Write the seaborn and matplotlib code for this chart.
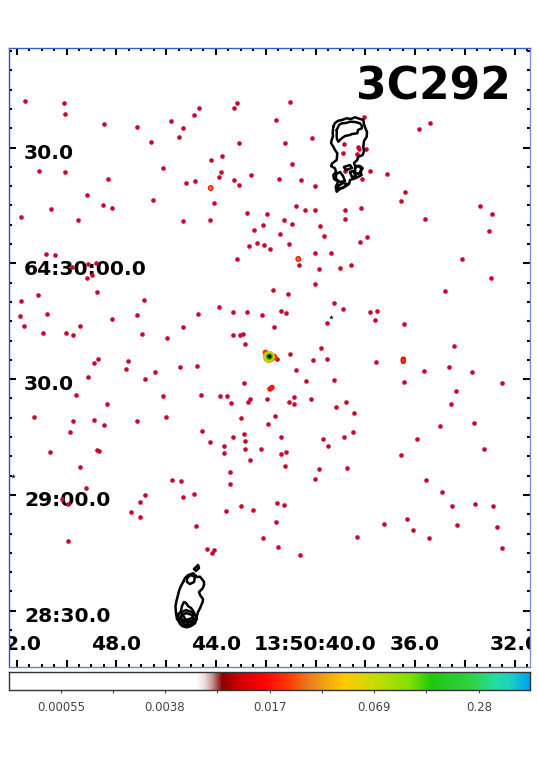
import numpy as np
import pandas as pd
import seaborn as sns
import matplotlib.pyplot as plt
from matplotlib.colors import LinearSegmentedColormap, LogNorm
from matplotlib.ticker import FixedLocator, FixedFormatter, NullFormatter
from matplotlib.transforms import ScaledTranslation

# faint sources, image pixel positions
src_x = [25, 64.3, 65, 104.3, 136.7, 171.3, 182.7, 194, 199.3, 234, 237.3, 150.7, 179.3, 238.7, 210.7, 221.7,
         163, 39, 65, 108.3, 221, 219, 186.3, 195, 234, 238.7, 250.7, 86.7, 153.3, 214, 103, 112, 51, 20.7,
         247.3, 266.7, 78, 183, 210.3, 263, 254.3, 249, 257.3, 264.3, 46, 55, 237.3, 270, 72.3, 88.3, 95.7,
         91.7, 87.3,
         290, 276, 364, 419.3, 430.3, 312, 285.3, 344, 357.7, 359.3, 365.7, 342.7, 356.7, 292.3, 370.3, 345.3,
         387.3, 279.3, 301, 362.3, 314.7, 405.3, 401.3, 296.3, 304.7, 315, 344.7, 361.3, 480, 492.3, 345, 425,
         284, 291.7, 319.7, 488.7, 280, 323.7, 367.3, 360.3, 288.7, 314.7, 331, 299, 318.7, 340.3, 351.3, 462,
         491,
         96.7, 38, 21, 143.7, 219.3, 233, 247.3, 261.7, 20, 46.7, 137, 198.3, 112, 24.3, 80.3, 183, 43, 66,
         73.3, 142, 167, 232.7, 240, 243.3, 245.3, 97.7, 93.7, 128, 126.3, 155, 180, 197, 88.3, 145.3, 243.7,
         76, 162.7, 201.3, 220.3, 227, 231, 248.3, 250, 267.3, 107.3, 34, 72.7, 94, 104.3, 137, 166, 240.7,
         268.3, 70.3, 201.7, 210.3, 233, 243.7, 245.3, 223.7, 245.3, 224, 261, 249.7, 49.7, 97, 99, 80, 230,
         171.7, 180.7, 229.7, 86.3, 194.3, 145, 182.7, 61.7, 68.3, 140, 131, 226, 241, 252.7, 140.3,
         315, 273.3, 287.7, 445.3, 333.7, 342.7, 281, 286.3, 370.3, 376.7, 374.7, 327, 404.3, 274, 454, 321,
         289.7, 277.3, 312.7, 327, 375.7, 296.3, 423.7, 449.3, 472.3, 306, 334.3, 404.3, 502, 456, 294.3,
         289.3, 293.7, 311, 335.7, 346.3, 451, 354, 275.3, 439.7, 474.3, 281, 323.3, 328, 344.3, 353.3, 417,
         484.3, 280.7, 285.7, 400.7, 284.7, 318.7, 347, 315.3, 426.3, 442, 276.7, 283.7, 452.3, 474.7, 492.7,
         406.7,
         196, 67.7, 263, 207.3, 212, 214, 275.7, 278.3, 299.7, 357, 384, 412.7, 428.7, 457.3, 497, 502.3]
src_y = [101, 102.7, 114.3, 124, 126.7, 121.3, 127.7, 114.7, 108, 107.7, 103.3, 142.3, 137.3, 143.3, 160, 155.7,
         168.3, 171, 172.3, 178.7, 172.3, 177, 182.7, 181, 180, 185, 174.7, 194.7, 200.3, 202.7, 205, 208.3,
         209.3, 217, 212.7, 214, 219.7, 220.7, 220.3, 225.3, 230.3, 246, 243.3, 245, 254, 255.3, 259, 249, 267,
         264.3, 263.3, 275, 278.3,
         102.3, 120, 117.3, 128.7, 123.3, 138.3, 143.3, 144.3, 147.3, 149.3, 149, 152.7, 154, 164.3, 171.3,
         171.3, 173.7, 179.3, 180, 179, 186, 192.3, 200.7, 206, 210, 210.3, 209.7, 208, 206.3, 213.7, 219.3,
         218.7, 220.3, 224, 226, 230.7, 234.3, 236.3, 236.7, 242, 244.3, 252.7, 252.7, 264.7, 269, 267.7,
         264.7, 259, 278,
         292, 294.7, 301, 299.7, 307.3, 312, 312.3, 315, 316, 314, 314.7, 314, 319, 325.7, 326, 326.7, 332.7,
         333, 335, 334, 338, 334.7, 335.3, 333.7, 343.7, 359, 362.7, 361, 368.7, 371.7, 367, 366, 377, 378.7,
         383.3, 394.7, 396.3, 395.3, 396.3, 396, 402.7, 402, 399, 399.3, 404.3, 416.7, 420.7, 419.7, 425.3,
         420.7, 417.3, 418, 424, 432, 431, 442, 436.7, 433.7, 441, 446, 448.7, 453.3, 449.3, 460.3, 452.3,
         449.7, 451.3, 466.7, 471.7, 480, 481, 484, 488, 494.3, 494.7, 497, 498.7, 504, 501.7, 511.7, 511,
         505.7, 509.7, 517,
         284.3, 290, 293.7, 291.3, 303, 309, 311.3, 312.7, 311.7, 311.3, 320, 322.7, 323.7, 326.7, 346.3, 348.3,
         354, 358.7, 360.3, 359.3, 362, 370, 370.7, 366.7, 372, 380.7, 379.7, 381.7, 382.7, 390.7, 397.3, 402,
         404.3, 399, 406.7, 402, 404.3, 413.3, 415.7, 425.7, 423, 436.7, 439, 445.7, 437, 432, 438.7, 449, 454,
         452.3, 454.7, 465.7, 469, 468.3, 479.3, 480, 492, 502.7, 504.7, 506, 503.7, 506, 519,
         526.3, 540.7, 538.3, 549, 553, 550.3, 522, 546.7, 555.3, 537.3, 524, 530.3, 538.3, 524.7, 526.7, 548.3]

# brighter sources, outer layers first
bright_x = [210.7, 210.7, 298.3, 298.3, 403.3, 403.3, 403.3, 270, 272,
            265.5, 274, 271, 269, 269, 269.3]
bright_y = [188, 188, 259, 259, 359.3, 361.3, 360.3, 389, 387.5,
            352.5, 357, 358, 357, 356.5, 356.5]
bright_flux = [0.017, 0.032, 0.017, 0.03, 0.017, 0.017, 0.024, 0.02, 0.02,
               0.024, 0.024, 0.02, 0.042, 0.075, 0.22]
bright_area = [18, 8, 18, 8, 16, 16, 7, 16, 16,
               18, 24, 30, 75, 48, 28]

# radio lobe contours
north_outer_x = [333.3, 335, 338.3, 342, 346.7, 351, 355, 360, 363.3, 364, 365, 367, 366.7, 364, 363.3, 364, 362.7,
                 358, 357.3, 354, 355, 360, 362.7, 360, 361.7, 356, 350, 349, 345, 341, 336.7, 335.7, 338.3,
                 334, 333.3, 336, 335, 331, 332.3, 336.7, 337.3, 335, 333.3, 331, 331.7, 333, 332.7, 333.3]
north_outer_y = [126.7, 123, 120.7, 120, 118.3, 119, 117.3, 119, 120, 124, 127.3, 132, 136.7, 141, 146.7, 151, 155,
                 157, 160, 163, 166, 166, 168.3, 172, 175, 178, 180, 184, 186.7, 188, 191.7, 186.7, 181.7,
                 179, 175, 172, 168.3, 166, 163.3, 160, 153.3, 150, 146.7, 143, 140, 136, 133.3, 126.7]
north_inner_x = [336.7, 339, 341.7, 346, 350, 355, 360, 362, 361.7, 358, 357.3, 352, 350, 345, 341.7, 338.3, 337,
                 336.7, 336.7]
north_inner_y = [130, 125, 123.3, 123, 121.7, 122, 123.3, 126, 128.3, 130, 133.3, 134, 135, 136, 138.3, 141.7, 139,
                 136.7, 130]
north_knot_a_x = [355, 358, 361, 361, 358, 355, 355]
north_knot_a_y = [168, 166, 168, 172, 174, 172, 168]
north_knot_b_x = [344, 350, 352, 346, 344]
north_knot_b_y = [167, 165, 168, 170, 167]
north_knot_c_x = [336, 340, 343, 345, 340, 336, 336]
north_knot_c_y = [174, 172, 176, 181, 182, 179, 174]
north_knot_d_x = [338, 343, 347, 343, 338, 338]
north_knot_d_y = [186, 183, 184, 188, 189, 186]
north_knot_e_x = [350, 353, 356, 352, 350]
north_knot_e_y = [172, 171, 176, 177, 172]
south_outer_x = [183.3, 185, 188.3, 193.3, 197, 200, 204, 204, 202.7, 199, 200, 203, 202.7, 200, 198, 196.7, 195,
                 191, 186.7, 182, 180, 177, 176, 175.5, 176.7, 178, 179.3, 181, 183.3]
south_outer_y = [581.7, 578, 575, 573.3, 577, 576.7, 581.7, 585, 588.3, 592, 595, 599, 601.7, 608.3, 612, 616.7,
                 623.3, 626, 627.3, 626, 623.3, 619, 613.3, 606, 600, 595, 590, 586, 581.7]
south_mid_x = [180.7, 182, 184, 186, 188, 191, 194, 192, 186, 180.7]
south_mid_y = [612, 606, 602, 603, 606, 608, 612, 618, 620, 612]
south_core_x = [181, 186, 192, 194, 188, 182, 181]
south_core_y = [616, 613, 615, 619, 623, 621, 616]
south_ring_x = [178, 186, 194, 197, 192, 186, 180, 178]
south_ring_y = [614, 610, 613, 619, 625, 627, 624, 614]
south_slot_x = [180, 186, 193, 190, 185, 180]
south_slot_y = [619, 621, 621, 625, 625, 619]
south_top_x = [187, 191, 195, 194, 190, 187, 187]
south_top_y = [578, 575, 577, 582, 584, 582, 578]
south_spot_x = [194, 198, 199, 196, 194]
south_spot_y = [569, 565, 568, 571, 569]

speck_x = [331, 13]
speck_y = [317, 475.7]
core_x = [269.3]
core_y = [356]

# tick labels
ra_major = [52, 50, 48, 46, 44, 42, 40, 38, 36, 34, 32]
ra_labels = ["52.0", "", "48.0", "", "44.0", "", "13:50:40.0", "", "36.0", "", "32.0"]
dec_major = [30, 0, -30, -60, -90]
dec_labels = ["30.0", "64:30:00.0", "30.0", "29:00.0", "28:30.0"]

cbar_ticks = [52, 104, 156, 208, 261, 313, 365, 417, 470]
cbar_labels = ["0.00055", "", "0.0038", "", "0.017", "", "0.069", "", "0.28"]

cmap_stops = [0.0, 0.359, 0.376, 0.39, 0.409, 0.445, 0.486, 0.53, 0.578, 0.645, 0.702, 0.77, 0.812, 0.885,
              0.933, 0.962, 1.0]
cmap_colors = ["#ffffff", "#ffffff", "#ecd8d8", "#c49494", "#8f0000", "#d00000", "#ff0000", "#ff3000", "#e88020",
               "#ffcc00", "#c8dc00", "#80e000", "#20c810", "#30d040", "#22e0a0", "#20d0c0", "#00a0f0"]


def ra_to_x(ra):
    return 315.5 + (40 - np.asarray(ra, dtype=float)) * 24.9


def dec_to_y(dec):
    return 263.3 - np.asarray(dec, dtype=float) * 3.86


sns.set_theme(style="white")
cmap = LinearSegmentedColormap.from_list("ds9", list(zip(cmap_stops, cmap_colors)), N=521)

fig = plt.figure(figsize=(5.38, 7.6), dpi=100)
ax = fig.add_axes([9 / 538, 1 - 667 / 760, 521 / 538, 619 / 760])

sns.scatterplot(x=src_x, y=src_y, color="#c9082d", s=11, linewidth=0, ax=ax, legend=False)

bright = pd.DataFrame({"x": bright_x, "y": bright_y, "flux": bright_flux, "area": bright_area})
sns.scatterplot(data=bright, x="x", y="y", hue="flux", palette=cmap, hue_norm=LogNorm(5.9e-4, 0.63),
                size="area", sizes=(7, 75), size_norm=(7, 75), linewidth=0, ax=ax, legend=False)
sns.scatterplot(x=core_x, y=core_y, color="black", s=9, linewidth=0, ax=ax, legend=False)
sns.scatterplot(x=speck_x, y=speck_y, color="black", s=12, marker="*", linewidth=0, ax=ax, legend=False)

contours = [(north_outer_x, north_outer_y), (north_inner_x, north_inner_y), (north_knot_a_x, north_knot_a_y),
            (north_knot_b_x, north_knot_b_y), (north_knot_c_x, north_knot_c_y), (north_knot_d_x, north_knot_d_y),
            (north_knot_e_x, north_knot_e_y), (south_outer_x, south_outer_y), (south_mid_x, south_mid_y),
            (south_core_x, south_core_y), (south_ring_x, south_ring_y), (south_slot_x, south_slot_y),
            (south_top_x, south_top_y), (south_spot_x, south_spot_y)]
for cx, cy in contours:
    sns.lineplot(x=cx, y=cy, sort=False, estimator=None, color="black", linewidth=1.8, ax=ax, legend=False)

ax.set_xlim(9, 530)
ax.set_ylim(667, 48)
ax.set_xlabel("")
ax.set_ylabel("")

ax.xaxis.set_major_locator(FixedLocator(ra_to_x(ra_major)))
ax.xaxis.set_major_formatter(FixedFormatter(ra_labels))
ax.xaxis.set_minor_locator(FixedLocator(ra_to_x(np.arange(31.5, 52.5, 0.5))))
ax.xaxis.set_minor_formatter(NullFormatter())
ax.yaxis.set_major_locator(FixedLocator(dec_to_y(dec_major)))
ax.yaxis.set_major_formatter(FixedFormatter(dec_labels))
ax.yaxis.set_minor_locator(FixedLocator(dec_to_y(np.arange(-95, 60, 5))))
ax.yaxis.set_minor_formatter(NullFormatter())

ax.tick_params(which="both", direction="in", top=True, right=True, bottom=True, left=True,
               color="black", width=1.5)
ax.tick_params(which="major", length=5.2)
ax.tick_params(which="minor", length=2.4)
ax.tick_params(axis="x", which="major", pad=-22.7, labelsize=14.6, labelcolor="black")
ax.tick_params(axis="y", which="major", pad=-10.8, labelsize=14.6, labelcolor="black")

for lab in ax.get_xticklabels():
    lab.set_fontweight("bold")
    lab.set_clip_on(True)
    lab.set_clip_box(ax.bbox)
shift = ScaledTranslation(0, -3.8 / 100, fig.dpi_scale_trans)
for lab in ax.get_yticklabels():
    lab.set_fontweight("bold")
    lab.set_horizontalalignment("left")
    lab.set_transform(lab.get_transform() + shift)

ax.text(511, 99, "3C292", ha="right", va="baseline", fontsize=31.7, fontweight="bold", color="black")

spine_colors = {"left": "#2b50d8", "top": "#3a5ad0", "right": "#7f90d0", "bottom": "#6a80d0"}
for side, col in spine_colors.items():
    ax.spines[side].set_color(col)
    ax.spines[side].set_linewidth(1.0)
    ax.spines[side].set_visible(True)

# colour bar strip
cax = fig.add_axes([9 / 538, 1 - 690 / 760, 521 / 538, 18 / 760])
sns.heatmap(np.arange(521).reshape(1, -1), cmap=cmap, cbar=False, xticklabels=False, yticklabels=False, ax=cax)
cax.set_xticks(cbar_ticks)
cax.set_xticklabels(cbar_labels, rotation=0, fontsize=8.5, color="#444444")
cax.tick_params(axis="x", bottom=True, length=2.5, width=0.8, color="#444444", pad=5.5)
for side in cax.spines:
    cax.spines[side].set_visible(True)
    cax.spines[side].set_color("#333333")
    cax.spines[side].set_linewidth(1.0)

fig.savefig("out.png", dpi=100, facecolor="white")
